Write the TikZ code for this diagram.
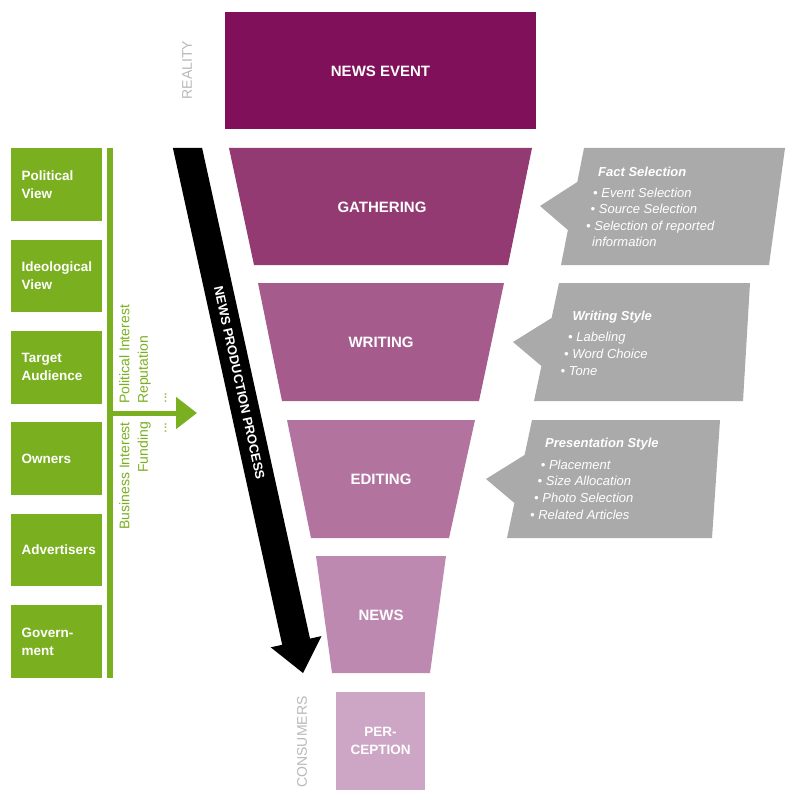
\documentclass[tikz,border=0pt]{standalone}
\usepackage{fontspec}
\setmainfont{Liberation Sans}
\usetikzlibrary{arrows.meta}
\definecolor{evtc}{RGB}{127,16,89}
\definecolor{gathc}{RGB}{148,58,115}
\definecolor{writc}{RGB}{165,91,140}
\definecolor{editc}{RGB}{178,115,158}
\definecolor{newsc}{RGB}{189,137,177}
\definecolor{percc}{RGB}{205,166,198}
\definecolor{grn}{RGB}{122,176,32}
\definecolor{callg}{RGB}{170,170,170}
\definecolor{lblg}{RGB}{185,185,185}
\begin{document}
\begin{tikzpicture}[x=1pt,y=-1pt,
  lab/.style={text=white, inner sep=0pt, font=\fontsize{15}{18}\selectfont\bfseries},
  side/.style={text=lblg, inner sep=0pt, rotate=90, font=\fontsize{14}{17}\selectfont},
  gbox/.style={fill=grn, text=white, anchor=north west, minimum width=91pt, minimum height=72.5pt,
    text width=70pt, align=left, inner sep=0pt, font=\fontsize{13.5}{18}\selectfont\bfseries},
  gtxt/.style={text=grn, rotate=90, inner sep=0pt, font=\fontsize{14}{18.5}\selectfont},
  ctitle/.style={text=white, anchor=west, inner sep=0pt, text height=9.4pt, text depth=0pt,
    font=\fontsize{13}{16}\selectfont\bfseries\itshape},
  citem/.style={text=white, anchor=west, inner sep=0pt, text height=9.4pt, text depth=0pt,
    font=\fontsize{13}{16}\selectfont\itshape}
]
\useasboundingbox (0,0) rectangle (800,802);
\fill[white] (0,0) rectangle (800,802);

% funnel
\fill[evtc] (225,12) rectangle (536,129);
\node[lab] (evt) at (380.5,71) {NEWS EVENT};
\fill[gathc] (229,148) -- (532,148) -- (508,265) -- (254,265) -- cycle;
\node[lab] (gat) at (382,207) {GATHERING};
\fill[writc] (258,283) -- (504,283) -- (479,401) -- (282,401) -- cycle;
\node[lab] (wri) at (381,342) {WRITING};
\fill[editc] (287,420) -- (475,420) -- (449,538) -- (311,538) -- cycle;
\node[lab] (edi) at (381,479) {EDITING};
\fill[newsc] (316,556) -- (446,556) -- (430,673) -- (332,673) -- cycle;
\node[lab] (nws) at (381,615) {NEWS};
\fill[percc] (336,692) rectangle (425,790);
\node[lab, align=center, font=\fontsize{13.5}{18.5}\selectfont\bfseries] (per) at (380.5,741) {PER-\\CEPTION};

\node[side] (real) at (187,70) {REALITY};
\node[side] (cons) at (302,742) {CONSUMERS};

% black process arrow
\fill[black] (172.9,148) -- (202.1,148) -- (310,638.6) -- (321.5,636.1) -- (303,673)
  -- (270.7,647.3) -- (282.2,644.8) -- cycle;
\node[text=white, inner sep=0pt, rotate=-77.6, font=\fontsize{13}{16}\selectfont\bfseries]
  (npp) at (239.5,383) {NEWS PRODUCTION PROCESS};

% green influences
\node[gbox] (g1) at (11,148) {Political\\View};
\node[gbox] (g2) at (11,239.4) {Ideological\\View};
\node[gbox] (g3) at (11,330.8) {Target\\Audience};
\node[gbox] (g4) at (11,422.2) {Owners};
\node[gbox] (g5) at (11,513.6) {Advertisers};
\node[gbox] (g6) at (11,605) {Govern-\\ment};
\fill[grn] (107,148) rectangle (113,677.5);
\coordinate (gj) at (113,413);
\coordinate (gt) at (197,413);
\draw[grn, line width=5pt, -{Triangle[length=21pt,width=31pt]}] (gj) -- (gt);
\node[gtxt, anchor=north west, align=left] (polint) at (119,404) {Political Interest\\Reputation\\...};
\node[gtxt, anchor=north east, align=right] (busint) at (119,422) {Business Interest\\Funding\\...};

% callouts
\fill[callg] (584,148) -- (785,148) -- (769,265) -- (561,265) -- (567.9,230) -- (540,206) -- (577.3,182) -- cycle;
\node[ctitle] (f0) at (598,171.5) {Fact Selection};
\node[citem] (f1) at (593,192.5) {• Event Selection};
\node[citem] (f2) at (590.5,209) {• Source Selection};
\node[citem] (f3) at (586,225.5) {• Selection of reported};
\node[citem] (f4) at (592,242) {information};

\fill[callg] (559,283) -- (750,283) -- (743,401) -- (534,401) -- (541.4,366) -- (513,342) -- (551.6,318) -- cycle;
\node[ctitle] (w0) at (572.5,315.5) {Writing Style};
\node[citem] (w1) at (568,337) {• Labeling};
\node[citem] (w2) at (564,354) {• Word Choice};
\node[citem] (w3) at (560.5,370.5) {• Tone};

\fill[callg] (532,420) -- (720,420) -- (712,538) -- (507,538) -- (514.4,503) -- (486,479) -- (524.6,455) -- cycle;
\node[ctitle] (p0) at (545,443) {Presentation Style};
\node[citem] (p1) at (540.7,464.5) {• Placement};
\node[citem] (p2) at (537.5,481) {• Size Allocation};
\node[citem] (p3) at (534,498) {• Photo Selection};
\node[citem] (p4) at (530,515) {• Related Articles};
\end{tikzpicture}
\end{document}
